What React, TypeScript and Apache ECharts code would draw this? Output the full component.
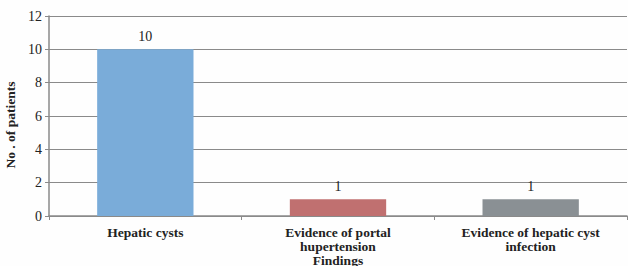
import React, { useEffect, useRef } from "react";
import * as echarts from "echarts";

const categories = ["Hepatic cysts", "Evidence of portal\nhupertension\nFindings", "Evidence of hepatic cyst\ninfection"];
const values = [10, 1, 1];
const barColors = ["#7aacd9", "#c07070", "#8a9094"];
const yTicks = { min: 0, max: 12, interval: 2 };

const serif = "Liberation Serif, Times New Roman, serif";

export default function App() {
  const ref = useRef<HTMLDivElement>(null);
  useEffect(() => {
    const chart = echarts.init(ref.current!, null, { renderer: "svg" });
    chart.setOption({
      animation: false,
      backgroundColor: "#fefefe",
      grid: { left: 49, top: 16, right: 1, bottom: 50, outerBoundsMode: "none", containLabel: false },
      xAxis: {
        type: "category",
        data: categories,
        axisLine: { lineStyle: { color: "#8a8a8a", width: 1.5 } },
        axisTick: { show: true, length: 4, lineStyle: { color: "#8a8a8a" } },
        axisLabel: {
          color: "#222",
          fontFamily: serif,
          fontWeight: "bold",
          fontSize: 13.5,
          lineHeight: 14,
          margin: 9,
          interval: 0,
        },
      },
      yAxis: {
        type: "value",
        min: yTicks.min,
        max: yTicks.max,
        interval: yTicks.interval,
        name: "No . of patients",
        nameLocation: "middle",
        nameGap: 25,
        nameRotate: 90,
        nameTextStyle: {
          color: "#222",
          fontFamily: serif,
          fontWeight: "bold",
          fontSize: 13.5,
          padding: [0, 18, 0, 0],
        },
        axisLine: { show: true, lineStyle: { color: "#8a8a8a", width: 1.5 } },
        axisTick: { show: true, length: 4, lineStyle: { color: "#8a8a8a" } },
        axisLabel: {
          color: "#222",
          fontFamily: serif,
          fontSize: 14,
          margin: 7,
        },
        splitLine: { lineStyle: { color: "#8a8a8a", width: 1.2 } },
      },
      series: [
        {
          type: "bar",
          barWidth: "50%",
          data: values.map((v, i) => ({ value: v, itemStyle: { color: barColors[i] } })),
          label: {
            show: true,
            position: "top",
            distance: 6,
            color: "#222",
            fontFamily: serif,
            fontSize: 14,
          },
        },
      ],
    });
    return () => chart.dispose();
  }, []);
  return <div ref={ref} style={{ width: 628, height: 266, position: "absolute", left: 0, top: 0 }} />;
}
